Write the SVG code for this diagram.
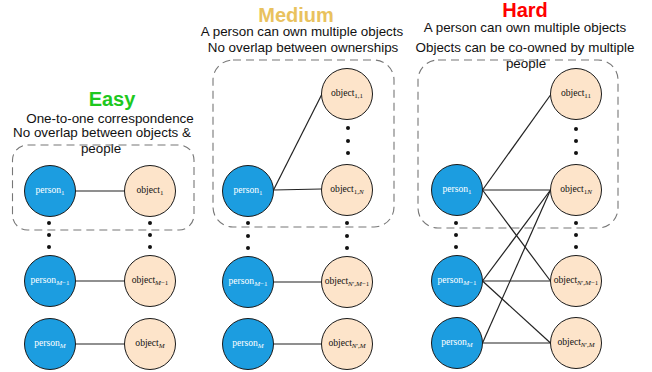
<svg xmlns="http://www.w3.org/2000/svg" width="652" height="372" viewBox="0 0 652 372">
  <style>
    .title { font-family: "Liberation Sans", Arial, sans-serif; font-weight: bold; font-size: 20px; text-anchor: middle; }
    .desc { font-family: "Liberation Sans", Arial, sans-serif; font-size: 13.4px; fill: #111; text-anchor: middle; }
    .group { fill: none; stroke: #777; stroke-width: 1.1; stroke-dasharray: 8 5; }
    .person circle { fill: #1c9de0; stroke: #1a1a1a; stroke-width: 1; }
    .object circle { fill: #fde4ca; stroke: #1a1a1a; stroke-width: 1; }
    .lbl { font-family: "Liberation Serif", "Times New Roman", serif; font-size: 9.6px; text-anchor: middle; }
    .person .lbl { fill: #ffffff; }
    .object .lbl { fill: #111111; }
    .sub { font-size: 7px; }
    .it { font-style: italic; }
    .edge { stroke: #222; stroke-width: 1.2; fill: none; }
    .edge.soft { stroke: #6a6a6a; stroke-width: 1.6; }
    .dot { fill: #111; }
  </style>

  <!-- Headings and descriptions -->
  <text class="title" x="112" y="106" fill="#1ec81e">Easy</text>
  <text class="desc" x="110" y="123">One-to-one correspondence</text>
  <text class="desc" x="102" y="137">No overlap between objects &amp;</text>
  <text class="desc" x="101" y="153">people</text>

  <text class="title" x="296" y="22" fill="#e9c25e">Medium</text>
  <text class="desc" x="302" y="36">A person can own multiple objects</text>
  <text class="desc" x="303" y="52">No overlap between ownerships</text>

  <text class="title" x="525" y="17" fill="#ff0000">Hard</text>
  <text class="desc" x="525" y="32">A person can own multiple objects</text>
  <text class="desc" x="525" y="52">Objects can be co-owned by multiple</text>
  <text class="desc" x="526" y="68">people</text>

  <!-- Dashed grouping frames -->
  <rect class="group" x="12.5" y="145" width="181.5" height="85" rx="15"/>
  <rect class="group" x="213" y="60" width="181" height="167" rx="20"/>
  <rect class="group" x="418" y="60" width="200" height="168" rx="20"/>

  <!-- Connectors -->
  <g id="connectors">
    <line class="edge soft" x1="75.5" y1="191" x2="124.5" y2="191"/>
    <line class="edge" x1="75.5" y1="281" x2="124.5" y2="281"/>
    <line class="edge" x1="75.5" y1="344" x2="124.5" y2="344"/>

    <line class="edge" x1="273.5" y1="190" x2="321.5" y2="95"/>
    <line class="edge" x1="273.5" y1="190" x2="321.5" y2="189"/>
    <line class="edge soft" x1="273.5" y1="282" x2="321.5" y2="282"/>
    <line class="edge soft" x1="273.5" y1="344" x2="321.5" y2="344"/>

    <line class="edge" x1="482.5" y1="190" x2="550.5" y2="95"/>
    <line class="edge" x1="482.5" y1="190" x2="550.5" y2="190"/>
    <line class="edge" x1="482.5" y1="190" x2="550.5" y2="281"/>
    <line class="edge" x1="482.5" y1="281" x2="550.5" y2="190"/>
    <line class="edge" x1="482.5" y1="281" x2="550.5" y2="281"/>
    <line class="edge" x1="482.5" y1="281" x2="550.5" y2="343"/>
    <line class="edge" x1="482.5" y1="343" x2="550.5" y2="190"/>
    <line class="edge" x1="482.5" y1="343" x2="550.5" y2="343"/>
  </g>

  <!-- Ellipsis dots -->
  <g id="ellipses">
    <circle class="dot" cx="49" cy="223" r="2"/><circle class="dot" cx="49" cy="235" r="2"/><circle class="dot" cx="49" cy="247" r="2"/>
    <circle class="dot" cx="150" cy="223" r="2"/><circle class="dot" cx="150" cy="235" r="2"/><circle class="dot" cx="150" cy="247" r="2"/>
    <circle class="dot" cx="248" cy="223" r="2"/><circle class="dot" cx="248" cy="236" r="2"/><circle class="dot" cx="248" cy="248" r="2"/>
    <circle class="dot" cx="347" cy="223" r="2"/><circle class="dot" cx="347" cy="236" r="2"/><circle class="dot" cx="347" cy="248" r="2"/>
    <circle class="dot" cx="348" cy="128" r="2"/><circle class="dot" cx="348" cy="141" r="2"/><circle class="dot" cx="348" cy="153" r="2"/>
    <circle class="dot" cx="456" cy="223" r="2"/><circle class="dot" cx="456" cy="235" r="2"/><circle class="dot" cx="456" cy="247" r="2"/>
    <circle class="dot" cx="576" cy="129" r="2"/><circle class="dot" cx="576" cy="141" r="2"/><circle class="dot" cx="576" cy="153" r="2"/>
    <circle class="dot" cx="576" cy="223" r="2"/><circle class="dot" cx="576" cy="235" r="2"/><circle class="dot" cx="576" cy="247" r="2"/>
  </g>

  <!-- Easy -->
  <g id="easy-person-1" class="person"><circle cx="50" cy="191" r="25.5"/><text class="lbl" x="50" y="193">person<tspan class="sub" dy="2">1</tspan></text></g>
  <g id="easy-object-1" class="object"><circle cx="150" cy="191" r="25.5"/><text class="lbl" x="150" y="193">object<tspan class="sub" dy="2">1</tspan></text></g>
  <g id="easy-person-m1" class="person"><circle cx="50" cy="281" r="25.5"/><text class="lbl" x="50" y="283">person<tspan class="sub" dy="2"><tspan class="it">M</tspan>−1</tspan></text></g>
  <g id="easy-object-m1" class="object"><circle cx="150" cy="281" r="25.5"/><text class="lbl" x="150" y="283">object<tspan class="sub" dy="2"><tspan class="it">M</tspan>−1</tspan></text></g>
  <g id="easy-person-m" class="person"><circle cx="50" cy="344" r="25.5"/><text class="lbl" x="50" y="346">person<tspan class="sub it" dy="2">M</tspan></text></g>
  <g id="easy-object-m" class="object"><circle cx="150" cy="344" r="25.5"/><text class="lbl" x="150" y="346">object<tspan class="sub it" dy="2">M</tspan></text></g>

  <!-- Medium -->
  <g id="medium-person-1" class="person"><circle cx="248" cy="191" r="25.5"/><text class="lbl" x="248" y="193">person<tspan class="sub" dy="2">1</tspan></text></g>
  <g id="medium-object-11" class="object"><circle cx="347" cy="94" r="25.5"/><text class="lbl" x="347" y="96">object<tspan class="sub" dy="2">1,1</tspan></text></g>
  <g id="medium-object-1n" class="object"><circle cx="347" cy="190" r="25.5"/><text class="lbl" x="347" y="192">object<tspan class="sub" dy="2">1,<tspan class="it">N</tspan></tspan></text></g>
  <g id="medium-person-m1" class="person"><circle cx="248" cy="282" r="25.5"/><text class="lbl" x="248" y="284">person<tspan class="sub" dy="2"><tspan class="it">M</tspan>−1</tspan></text></g>
  <g id="medium-object-nm1" class="object"><circle cx="347" cy="282" r="25.5"/><text class="lbl" x="347" y="284">object<tspan class="sub" dy="2"><tspan class="it">N</tspan>′,<tspan class="it">M</tspan>−1</tspan></text></g>
  <g id="medium-person-m" class="person"><circle cx="248" cy="344" r="25.5"/><text class="lbl" x="248" y="346">person<tspan class="sub it" dy="2">M</tspan></text></g>
  <g id="medium-object-nm" class="object"><circle cx="347" cy="344" r="25.5"/><text class="lbl" x="347" y="346">object<tspan class="sub" dy="2"><tspan class="it">N</tspan>′,<tspan class="it">M</tspan></tspan></text></g>

  <!-- Hard -->
  <g id="hard-person-1" class="person"><circle cx="457" cy="190" r="25.5"/><text class="lbl" x="457" y="192">person<tspan class="sub" dy="2">1</tspan></text></g>
  <g id="hard-object-11" class="object"><circle cx="576" cy="94" r="25.5"/><text class="lbl" x="576" y="96">object<tspan class="sub" dy="2">11</tspan></text></g>
  <g id="hard-object-1n" class="object"><circle cx="576" cy="190" r="25.5"/><text class="lbl" x="576" y="192">object<tspan class="sub" dy="2">1<tspan class="it">N</tspan></tspan></text></g>
  <g id="hard-person-m1" class="person"><circle cx="457" cy="281" r="25.5"/><text class="lbl" x="457" y="283">person<tspan class="sub" dy="2"><tspan class="it">M</tspan>−1</tspan></text></g>
  <g id="hard-object-nm1" class="object"><circle cx="576" cy="281" r="25.5"/><text class="lbl" x="576" y="283">object<tspan class="sub" dy="2"><tspan class="it">N</tspan>′,<tspan class="it">M</tspan>−1</tspan></text></g>
  <g id="hard-person-m" class="person"><circle cx="457" cy="343" r="25.5"/><text class="lbl" x="457" y="345">person<tspan class="sub it" dy="2">M</tspan></text></g>
  <g id="hard-object-nm" class="object"><circle cx="576" cy="343" r="25.5"/><text class="lbl" x="576" y="345">object<tspan class="sub" dy="2"><tspan class="it">N</tspan>′,<tspan class="it">M</tspan></tspan></text></g>
</svg>
